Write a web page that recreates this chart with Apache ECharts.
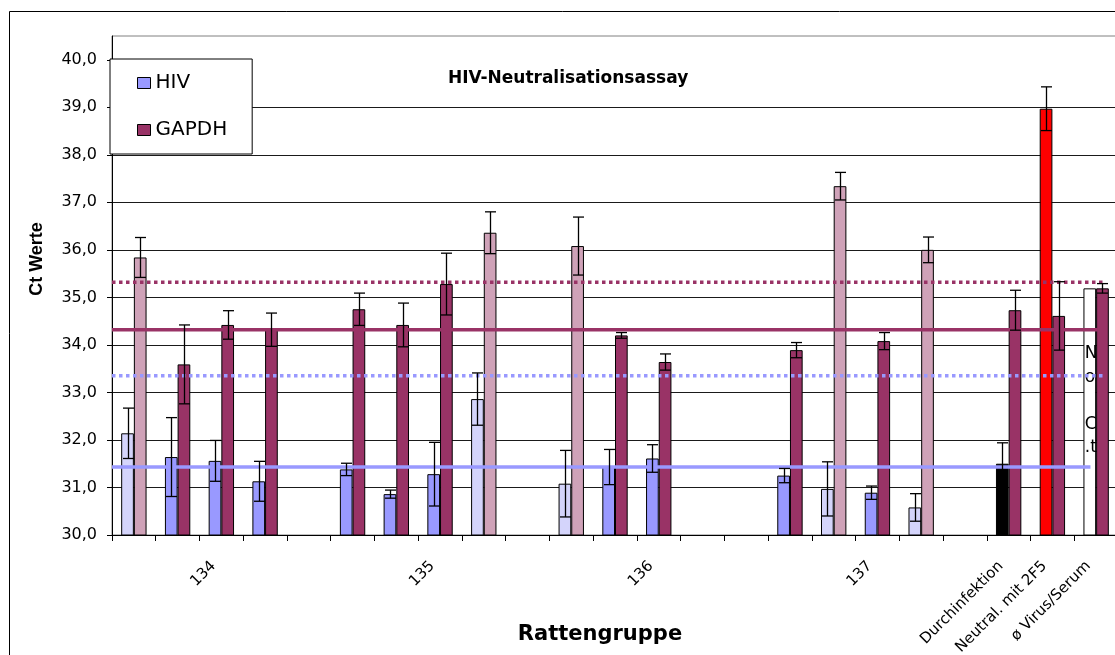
<!DOCTYPE html>
<html><head><meta charset="utf-8">
<script src="https://cdn.jsdelivr.net/npm/echarts@6/dist/echarts.min.js"></script>
<style>html,body{margin:0;padding:0;background:#fff}#c{width:1115px;height:655px}</style>
</head><body><div id="c"></div>
<script>
// ---- data ----
const categories = ['', '', '134', '', '', '', '', '135', '', '', '', '', '136', '', '', '', '', '137', '', '', 'Durchinfektion', 'Neutral. mit 2F5', 'ø Virus/Serum'];
const hivValues   = [32.14, 31.64, 31.56, 31.13, null, 31.38, 30.86, 31.28, 32.86, null, 31.08, 31.43, 31.61, null, null, 31.25, 30.97, 30.89, 30.58, null, 31.50, 38.97, 35.19];
const hivErrors   = [0.53, 0.83, 0.43, 0.42, null, 0.13, 0.085, 0.67, 0.55, null, 0.70, 0.37, 0.29, null, null, 0.15, 0.57, 0.14, 0.29, null, 0.44, 0.46, null];
const gapdhValues = [35.84, 33.59, 34.42, 34.32, null, 34.75, 34.42, 35.28, 36.36, null, 36.08, 34.20, 33.64, null, null, 33.89, 37.34, 34.08, 36.00, null, 34.73, 34.61, 35.19];
const gapdhErrors = [0.42, 0.83, 0.30, 0.35, null, 0.34, 0.46, 0.65, 0.44, null, 0.61, 0.06, 0.17, null, null, 0.16, 0.29, 0.18, 0.27, null, 0.42, 0.72, 0.10];
const yTicks = [30, 31, 32, 33, 34, 35, 36, 37, 38, 39, 40];
// reference lines: value and extent in category units
const hivMean = 31.43, hivMeanDotted = 33.35, gapdhMean = 34.32, gapdhMeanDotted = 35.32;
const lineStart = -0.5;
const hivMeanEnd = 21.87, hivDottedEnd = 22.2, gapdhMeanEnd = 22.04, gapdhDottedEnd = 22.16;
const noCtText = 'N\no\n\nC\n.t';
const titleText = 'HIV-Neutralisationsassay';

// ---- styles ----
const HIV_C = '#9999ff', GAPDH_C = '#993366';
const HIV_HATCH = '#d4d4fb', GAPDH_HATCH = '#cfa2b8';
const hatchedIdx = [0, 8, 10, 16, 18];
const specialHiv = {20: '#000000', 21: '#ff0000', 22: '#ffffff'};
const GAP = 0.42;
const hivData = hivValues.map((v, i) => {
  if (v == null) return null;
  const o = {value: v};
  if (hatchedIdx.includes(i)) o.itemStyle = {color: HIV_HATCH};
  if (specialHiv[i]) o.itemStyle = {color: specialHiv[i]};
  if (i === 22) o.label = {show: true, formatter: noCtText, position: 'inside', align: 'left', verticalAlign: 'middle',
    offset: [-5, -11], fontSize: 17, lineHeight: 23.5, color: '#000', fontFamily: 'DejaVu Sans'};
  return o;
});
const gapdhData = gapdhValues.map((v, i) => {
  if (v == null) return null;
  const o = {value: v};
  if (hatchedIdx.includes(i)) o.itemStyle = {color: GAPDH_HATCH};
  return o;
});
function errData(vals, errs) {
  const out = [];
  vals.forEach((v, i) => { if (v != null && errs[i] != null) out.push([i, v, errs[i]]); });
  return out;
}
function errRenderer(side) {
  return function (params, api) {
    const i = api.value(0), v = api.value(1), e = api.value(2);
    const catW = api.size([1, 0])[0];
    const bw = catW * (1 - GAP) / 2;
    const p1 = api.coord([i, v + e]);
    const p2 = api.coord([i, v - e]);
    const x = Math.round(p1[0] + side * bw / 2) + 0.5;
    const cap = 5.5;
    const s = {stroke: '#000', lineWidth: 1.3};
    return {type: 'group', children: [
      {type: 'line', shape: {x1: x, y1: p1[1], x2: x, y2: p2[1]}, style: s},
      {type: 'line', shape: {x1: x - cap, y1: p1[1], x2: x + cap, y2: p1[1]}, style: s},
      {type: 'line', shape: {x1: x - cap, y1: p2[1], x2: x + cap, y2: p2[1]}, style: s}
    ]};
  };
}
function refLine(name, v, end, color, dotted) {
  return {
    name: name, type: 'line', xAxisIndex: 1, yAxisIndex: 0, z: 5, silent: true,
    symbol: 'none', data: [[lineStart, v], [end, v]],
    lineStyle: {color: color, width: 3.5, type: dotted ? [3.5, 3.5] : 'solid', cap: 'butt'}
  };
}

const chart = echarts.init(document.getElementById('c'));
chart.setOption({
  animation: false,
  backgroundColor: '#ffffff',
  textStyle: {fontFamily: 'DejaVu Sans'},
  graphic: [{type: 'rect', silent: true, z: 0, shape: {x: 9.5, y: 11.5, width: 1400, height: 900},
    style: {fill: null, stroke: '#000', lineWidth: 1}}],
  title: {text: titleText, left: 448, top: 70, padding: 0,
    textStyle: {fontFamily: 'DejaVu Sans', fontWeight: 'bold', fontSize: 17, color: '#000'}},
  legend: {
    data: ['HIV', 'GAPDH'], orient: 'vertical', left: 110, top: 59, icon: 'rect',
    padding: [14, 25, 14, 27], itemGap: 27, itemWidth: 13, itemHeight: 11,
    backgroundColor: '#fff', borderColor: '#000', borderWidth: 1, borderRadius: 0,
    itemStyle: {borderColor: '#000', borderWidth: 1},
    textStyle: {fontFamily: 'DejaVu Sans', fontSize: 20, color: '#000', lineHeight: 20},
    selectedMode: false, z: 10
  },
  grid: {left: 112, top: 36, width: 1006, height: 499, show: true, borderColor: '#808080', borderWidth: 1,
    outerBoundsMode: 'none', containLabel: false},
  xAxis: [{
    type: 'category', data: categories,
    axisLine: {lineStyle: {color: '#000', width: 1}},
    axisTick: {show: true, interval: 0, length: 6, lineStyle: {color: '#000'}},
    axisLabel: {interval: 0, rotate: 45, margin: 21, padding: [0, 11, 21, 0],
      fontFamily: 'DejaVu Sans', fontSize: 15, color: '#000'},
    name: 'Rattengruppe', nameLocation: 'middle', nameGap: 89, nameMoveOverlap: false,
    nameTextStyle: {fontFamily: 'DejaVu Sans', fontWeight: 'bold', fontSize: 21, color: '#000', padding: [0, 30, 0, 0]}
  }, {
    type: 'value', min: -0.5, max: 22.5, show: false, axisLine: {onZero: false}
  }],
  yAxis: {
    type: 'value', min: 30, max: 40.5, interval: 1,
    axisLine: {show: true, onZero: false, lineStyle: {color: '#000', width: 1}},
    axisTick: {show: true, length: 5, lineStyle: {color: '#000'}, customValues: yTicks},
    axisLabel: {customValues: yTicks, margin: 15, fontFamily: 'DejaVu Sans', fontSize: 16, color: '#000',
      formatter: v => Number.isInteger(v) ? v.toFixed(1).replace('.', ',') : ''},
    splitLine: {show: true, showMaxLine: false, lineStyle: {color: '#1a1a1a', width: 1}},
    name: 'Ct Werte', nameLocation: 'middle', nameGap: 66, nameMoveOverlap: false,
    nameTextStyle: {fontFamily: 'Liberation Sans', fontWeight: 'bold', fontSize: 18, color: '#000', padding: [0, 0, 0, 53]}
  },
  series: [
    {name: 'HIV', type: 'bar', data: hivData, barGap: '0%', barCategoryGap: (GAP * 100) + '%', z: 2,
      itemStyle: {color: HIV_C, borderColor: '#000', borderWidth: 1}},
    {name: 'GAPDH', type: 'bar', data: gapdhData, barGap: '0%', barCategoryGap: (GAP * 100) + '%', z: 2,
      itemStyle: {color: GAPDH_C, borderColor: '#000', borderWidth: 1}},
    refLine('HIV Mittelwert', hivMean, hivMeanEnd, HIV_C, false),
    refLine('HIV Grenze', hivMeanDotted, hivDottedEnd, HIV_C, true),
    refLine('GAPDH Mittelwert', gapdhMean, gapdhMeanEnd, GAPDH_C, false),
    refLine('GAPDH Grenze', gapdhMeanDotted, gapdhDottedEnd, GAPDH_C, true),
    {name: 'HIV err', type: 'custom', data: errData(hivValues, hivErrors), renderItem: errRenderer(-1),
      encode: {x: 0, y: 1}, z: 6, silent: true},
    {name: 'GAPDH err', type: 'custom', data: errData(gapdhValues, gapdhErrors), renderItem: errRenderer(1),
      encode: {x: 0, y: 1}, z: 6, silent: true}
  ]
});
</script>
</body></html>
